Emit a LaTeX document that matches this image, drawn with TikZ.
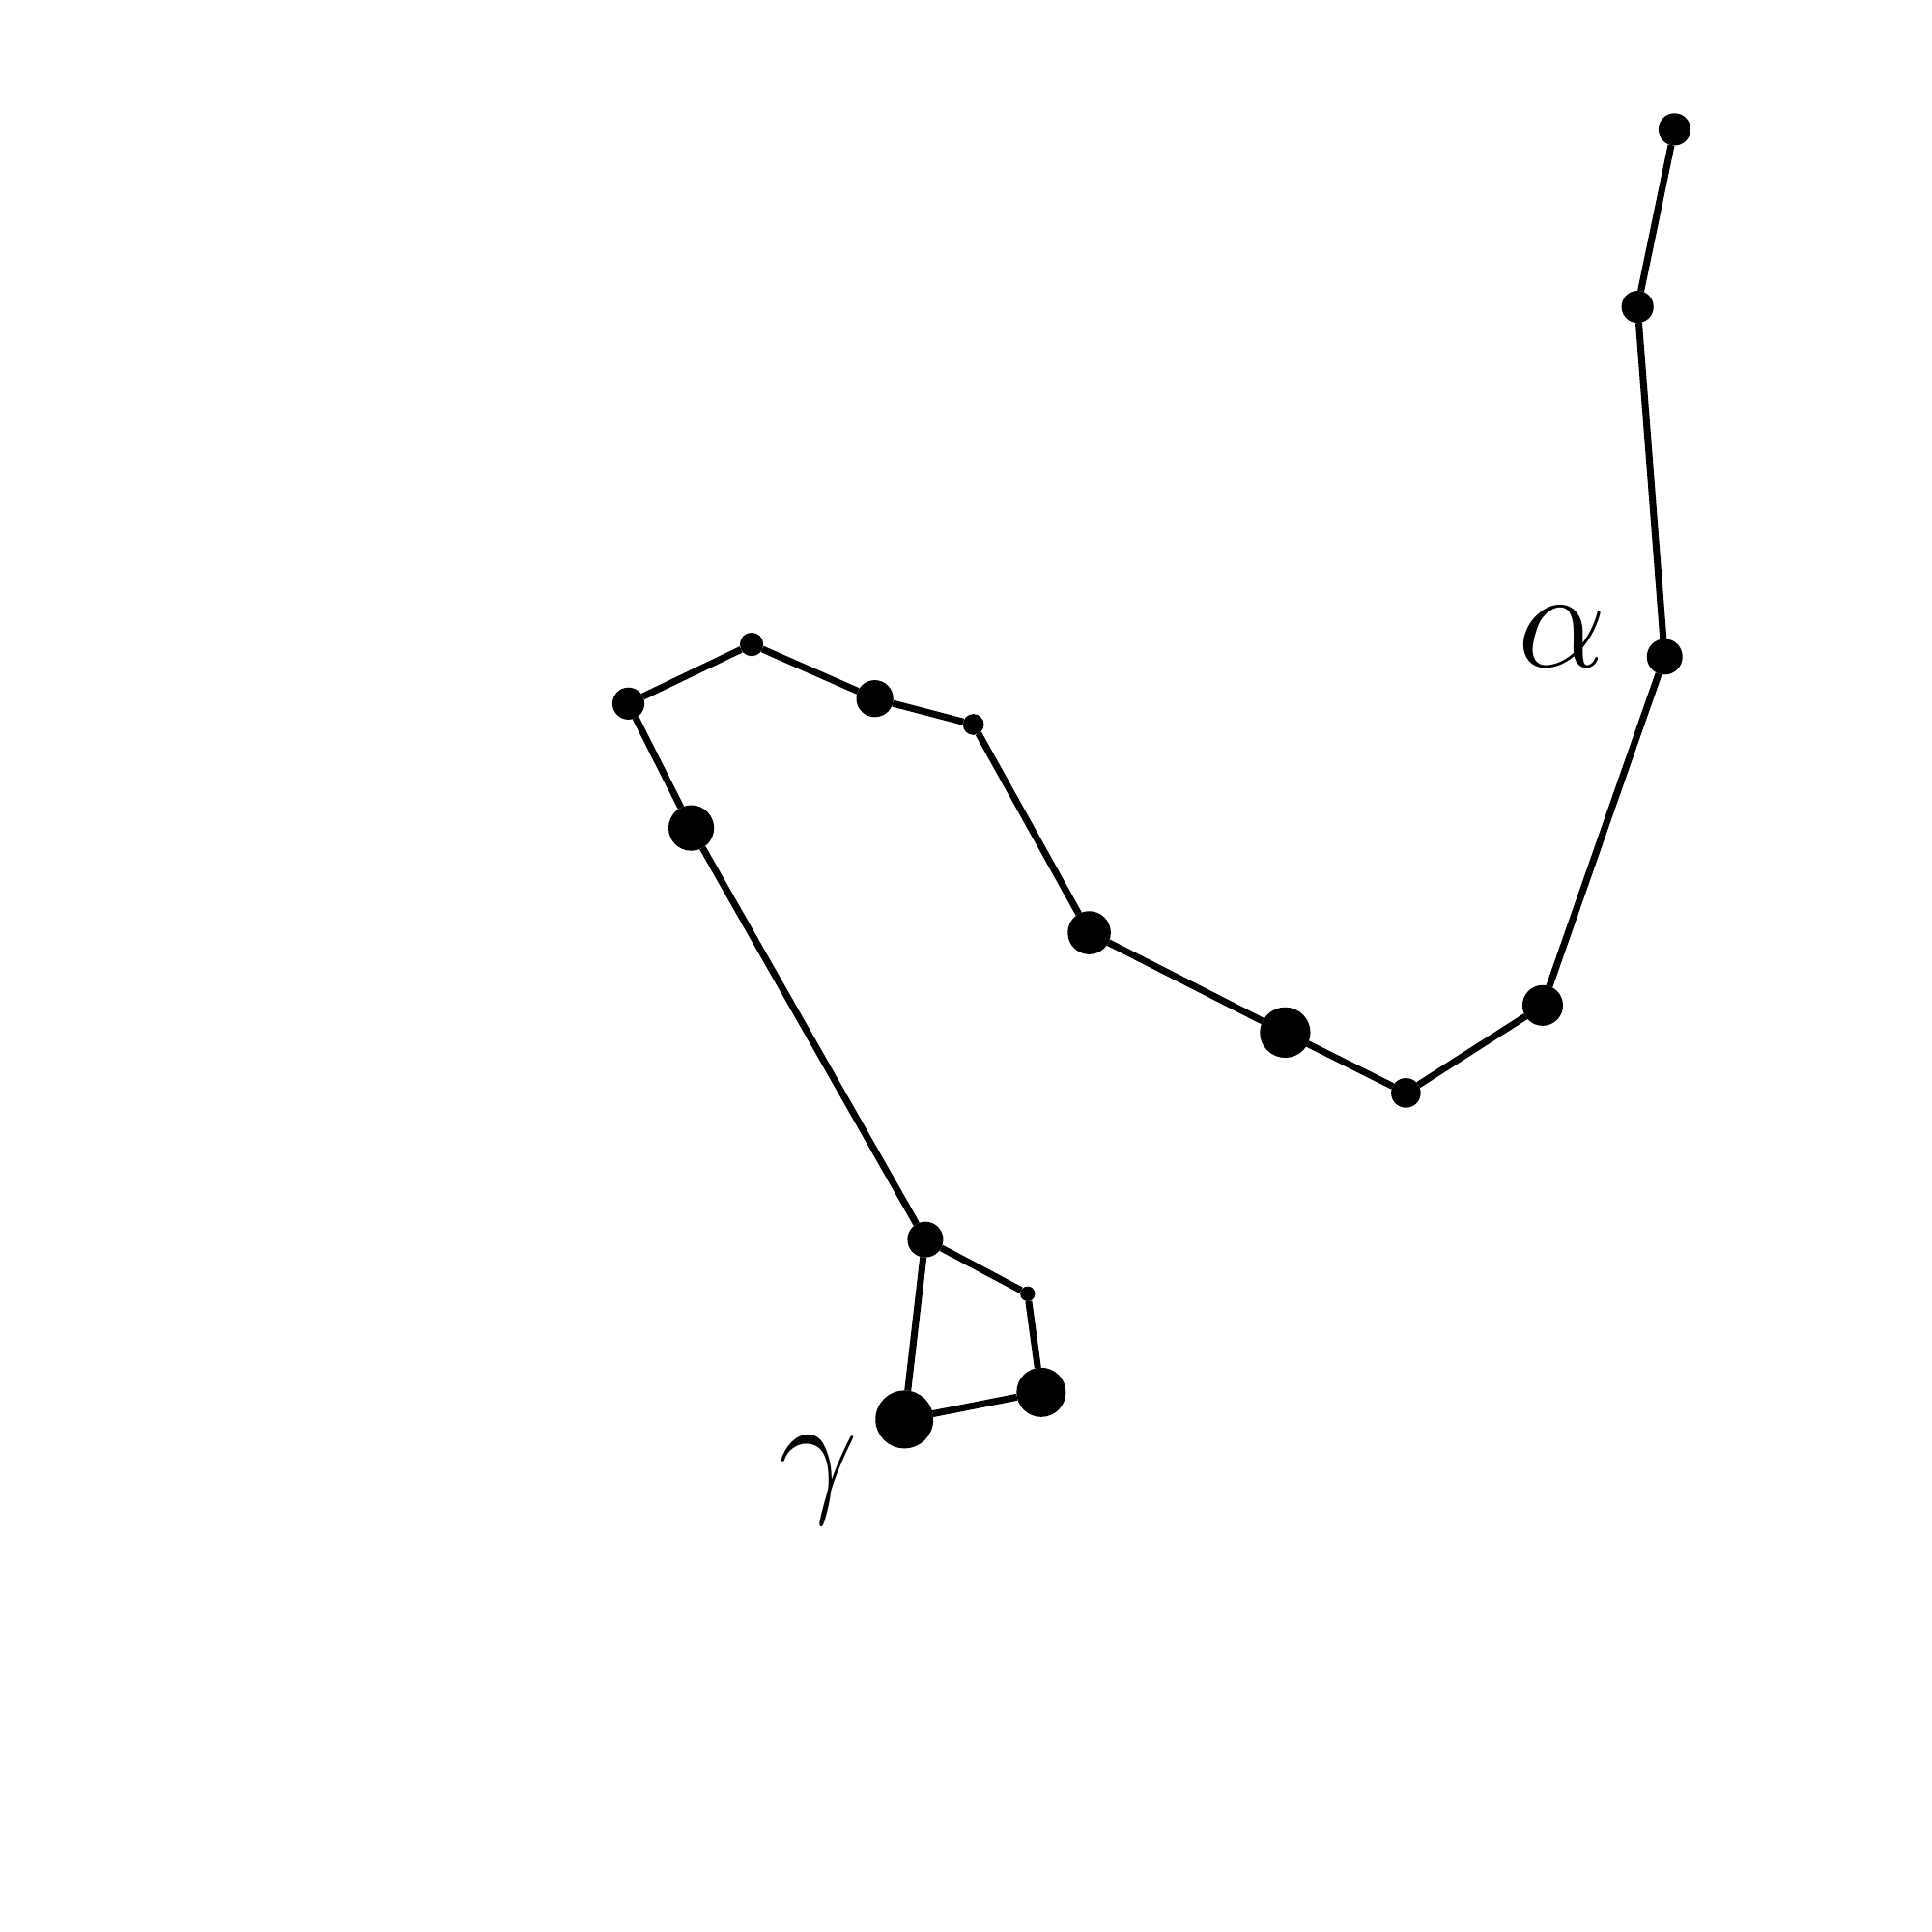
\documentclass[tikz,border=0pt]{standalone}
\begin{document}
\begin{tikzpicture}[x=0.0064cm,y=-0.0064cm,
  star/.style={circle,fill=black,inner sep=0pt,outer sep=0pt,minimum size=#1*0.0064cm},
  lien/.style={line width=1pt}]
  \useasboundingbox (0,0) rectangle (1568,1568);
  % etoiles
  \node[star=26] (s1) at (1359,105) {};
  \node[star=26] (s2) at (1329,249) {};
  \node[star=29] (s3) at (1351,533) {};
  \node[star=33] (s4) at (1252,816) {};
  \node[star=24] (s5) at (1141,887) {};
  \node[star=41] (s6) at (1043,838) {};
  \node[star=35] (s7) at (884,757) {};
  \node[star=17] (s8) at (790,588) {};
  \node[star=30] (s9) at (710,567) {};
  \node[star=19] (s10) at (610,523) {};
  \node[star=26] (s11) at (510,571) {};
  \node[star=37] (s12) at (561,672) {};
  \node[star=29] (s13) at (751,1006) {};
  \node[star=12] (s14) at (834,1050) {};
  \node[star=40] (s15) at (845,1130) {};
  \node[star=47] (s16) at (734,1152) {};
  % liens
  \foreach \a/\b in {1/2,2/3,3/4,4/5,5/6,6/7,7/8,8/9,9/10,10/11,11/12,12/13,13/14,14/15,15/16,16/13}
    \draw[lien] (s\a) -- (s\b);
  \node (alpha) at (1268,517) {\fontsize{21}{25}\selectfont $\alpha$};
  \node (gamma) at (664,1201) {\fontsize{21}{25}\selectfont $\gamma$};
\end{tikzpicture}
\end{document}
